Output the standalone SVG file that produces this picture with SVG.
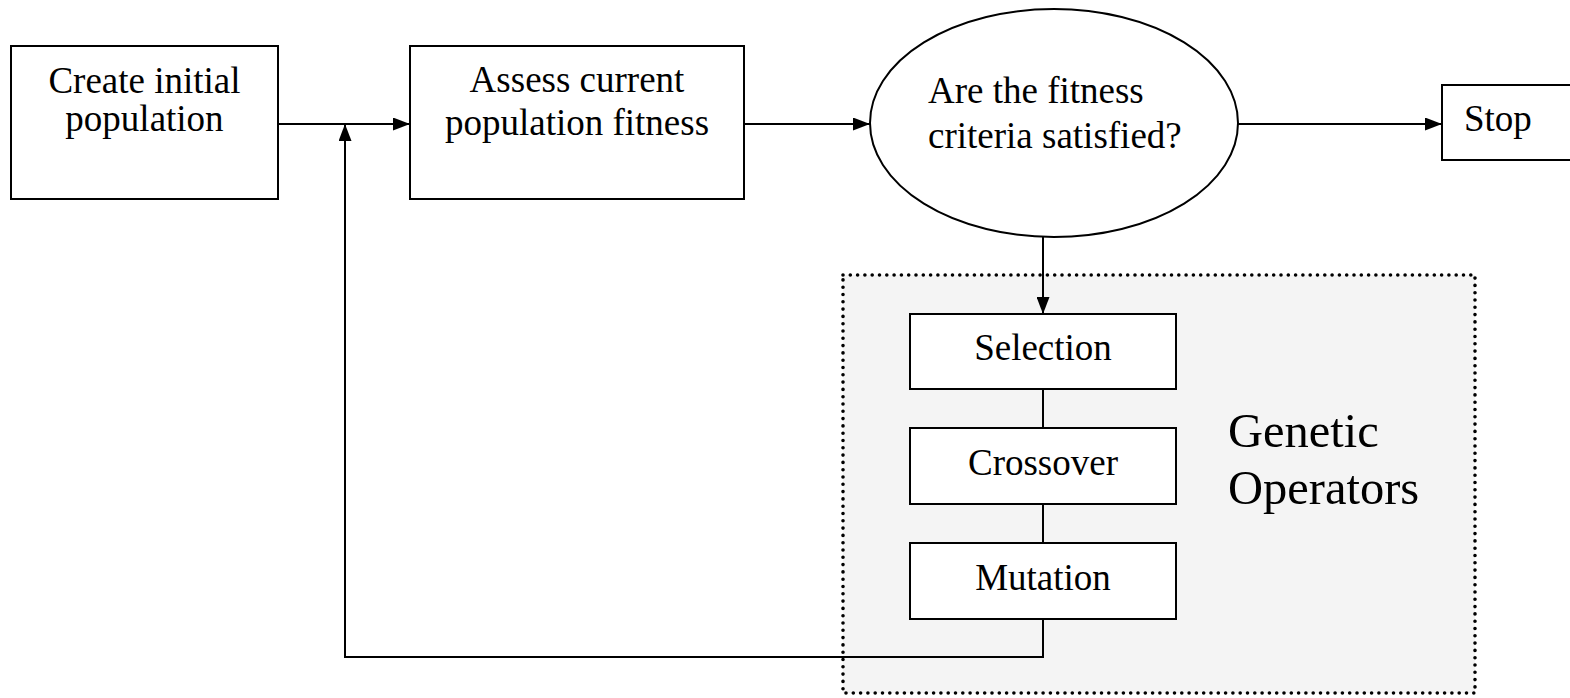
<svg xmlns="http://www.w3.org/2000/svg" width="1570" height="698" viewBox="0 0 1570 698">
<style>
.box{fill:#fff;stroke:#000;stroke-width:2}
.t{font-family:"Liberation Serif","Times New Roman",serif;font-size:37px;fill:#000}
.c{text-anchor:middle}
.ln{fill:none;stroke:#000;stroke-width:2}
</style>
<defs>
<marker id="ah" markerWidth="17" markerHeight="13" refX="17" refY="6.5" orient="auto" markerUnits="userSpaceOnUse">
<path d="M0,0 L17,6.5 L0,13 Z" fill="#000"/>
</marker>
</defs>
<rect width="1570" height="698" fill="#fff"/>
<g id="genetic-operators">
<rect x="843" y="275" width="632" height="418" fill="#f4f4f4" stroke="#000" stroke-width="3.6" stroke-dasharray="0 7.3" stroke-linecap="round"/>
<text class="t" x="1228" y="447" style="font-size:48.5px">Genetic</text>
<text class="t" x="1228" y="504" style="font-size:48.5px">Operators</text>
</g>
<g id="connectors">
<path class="ln" d="M278,124 H410" marker-end="url(#ah)"/>
<path class="ln" d="M1043,619 V657 H345 V124" marker-end="url(#ah)"/>
<path class="ln" d="M744,124 H870" marker-end="url(#ah)"/>
<path class="ln" d="M1238,124 H1442" marker-end="url(#ah)"/>
<path class="ln" d="M1043,237 V314" marker-end="url(#ah)"/>
<path class="ln" d="M1043,389 V428"/>
<path class="ln" d="M1043,504 V543"/>
</g>
<g id="create">
<rect class="box" x="11" y="46" width="267" height="153"/>
<text class="t c" x="144.5" y="93">Create initial</text>
<text class="t c" x="144.5" y="131">population</text>
</g>
<g id="assess">
<rect class="box" x="410" y="46" width="334" height="153"/>
<text class="t c" x="577" y="92">Assess current</text>
<text class="t c" x="577" y="135">population fitness</text>
</g>
<g id="decision">
<ellipse cx="1054" cy="123" rx="184" ry="114" fill="#fff" stroke="#000" stroke-width="2"/>
<text class="t" x="928" y="103">Are the fitness</text>
<text class="t" x="928" y="148">criteria satisfied?</text>
</g>
<g id="stop">
<rect class="box" x="1442" y="85" width="140" height="75"/>
<text class="t" x="1464" y="131">Stop</text>
</g>
<g id="selection">
<rect class="box" x="910" y="314" width="266" height="75"/>
<text class="t c" x="1043" y="360">Selection</text>
</g>
<g id="crossover">
<rect class="box" x="910" y="428" width="266" height="76"/>
<text class="t c" x="1043" y="475">Crossover</text>
</g>
<g id="mutation">
<rect class="box" x="910" y="543" width="266" height="76"/>
<text class="t c" x="1043" y="590">Mutation</text>
</g>
</svg>
